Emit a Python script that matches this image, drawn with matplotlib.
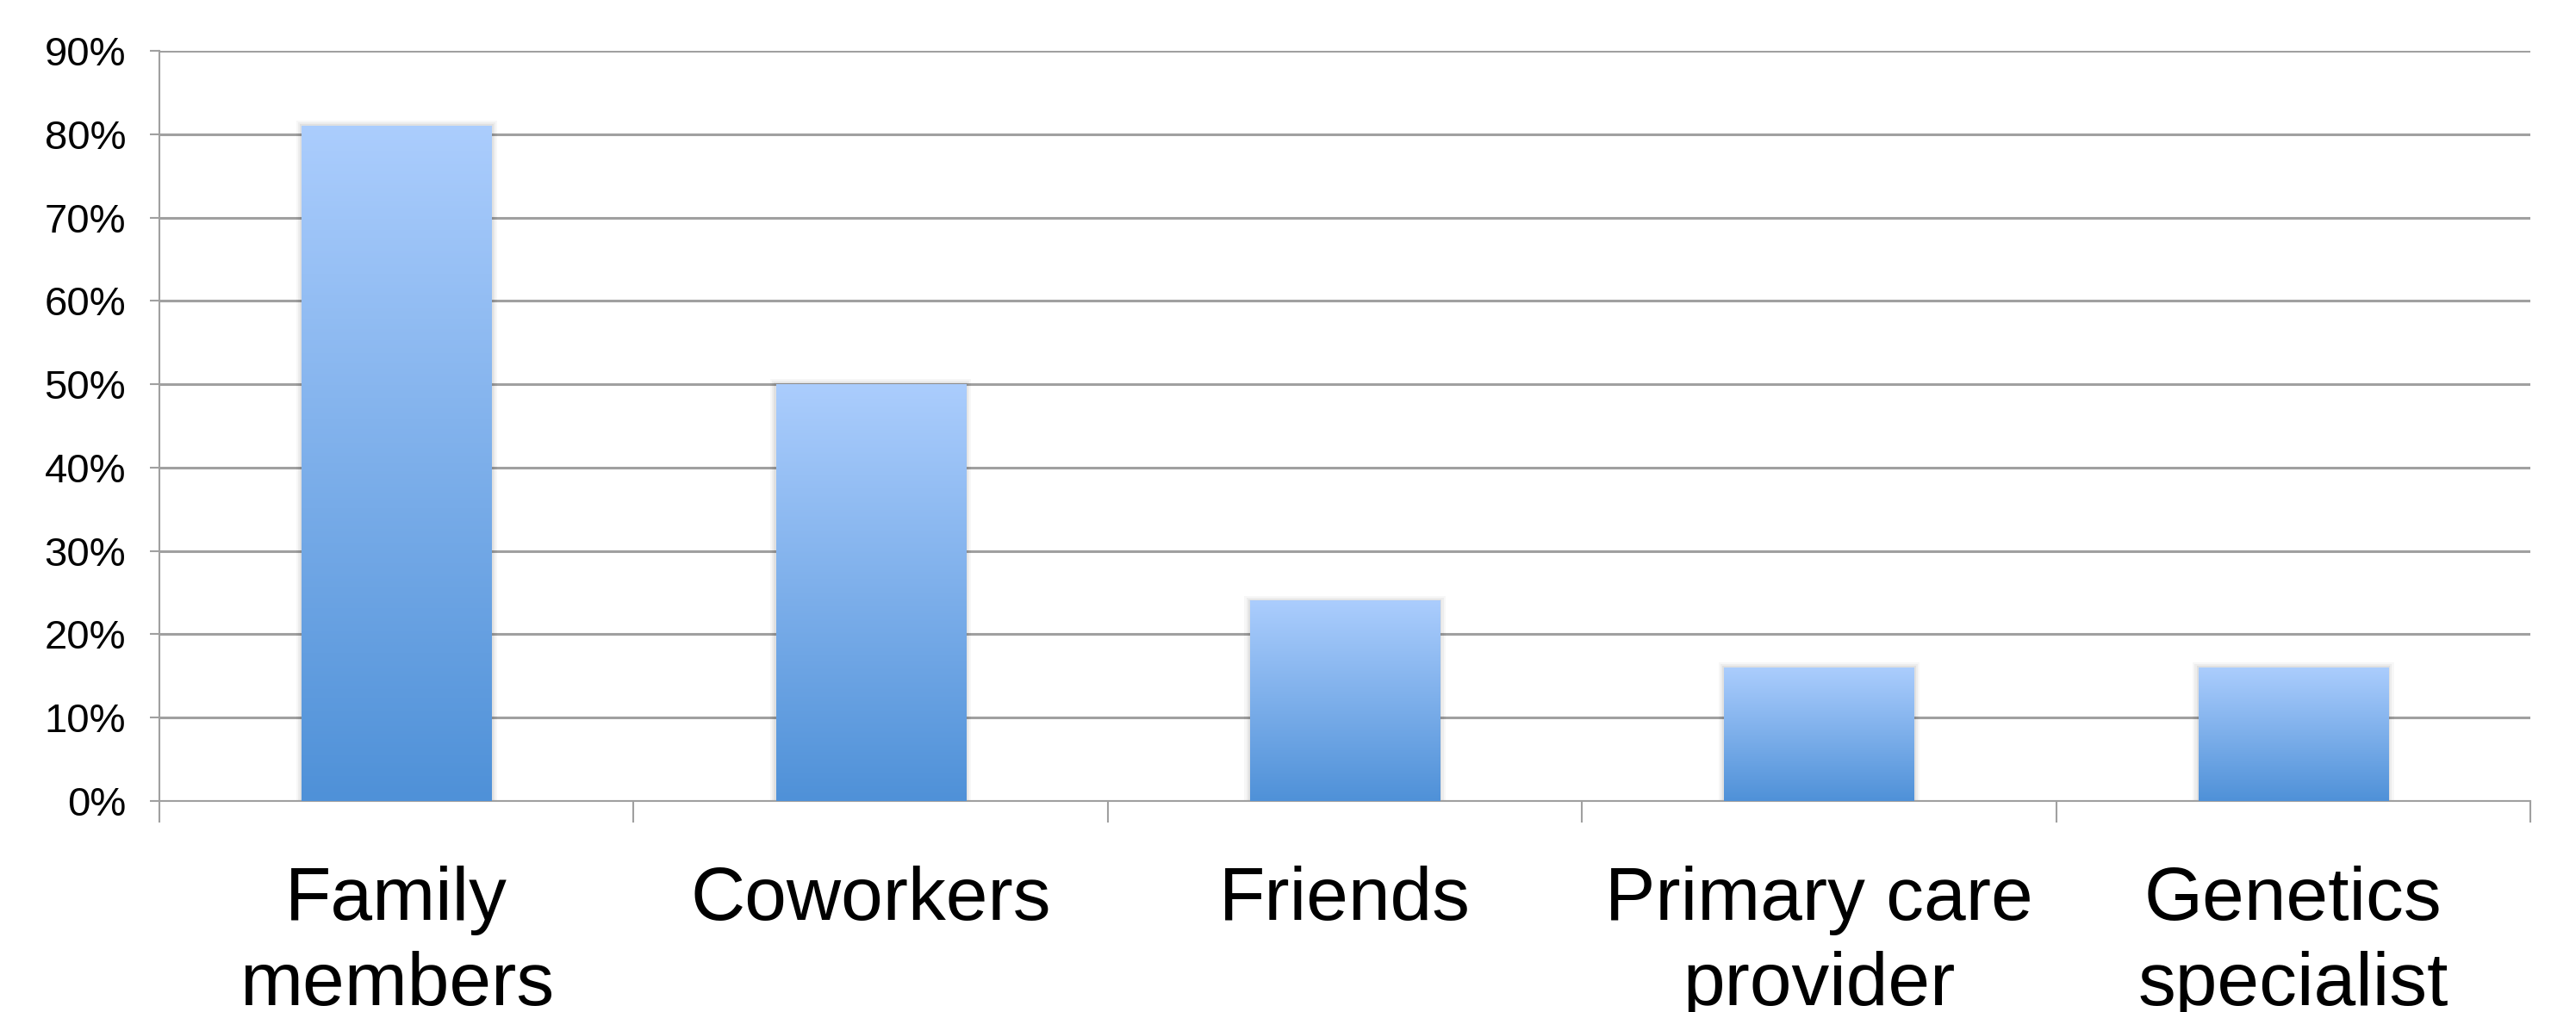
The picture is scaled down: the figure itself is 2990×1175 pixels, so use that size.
import numpy as np
import matplotlib
matplotlib.use("Agg")
import matplotlib.pyplot as plt
from matplotlib.colors import LinearSegmentedColormap
from matplotlib.patches import Rectangle

categories = ["Family\nmembers", "Coworkers", "Friends", "Primary care\nprovider", "Genetics\nspecialist"]
values = [0.81, 0.50, 0.24, 0.16, 0.16]
yticks = [0.0, 0.1, 0.2, 0.3, 0.4, 0.5, 0.6, 0.7, 0.8, 0.9]
ytick_labels = ["0%", "10%", "20%", "30%", "40%", "50%", "60%", "70%", "80%", "90%"]

plt.rcParams['font.family'] = ['Liberation Sans', 'DejaVu Sans']

fig = plt.figure(figsize=(29.9, 11.75), dpi=100)
ax = fig.add_axes([0.0619, 0.2085, 0.9823 - 0.0619, 0.9498 - 0.2085])

n = len(categories)
ax.set_xlim(0, n)
ax.set_ylim(0, 0.9)

cmap = LinearSegmentedColormap.from_list("g", ["#4f91d8", "#abcdfd"])
grad = np.linspace(0, 1, 256).reshape(-1, 1)
width = 0.4
for i, v in enumerate(values):
    x0 = i + 0.5 - width / 2
    # soft shadow
    for k, a in enumerate([0.05, 0.04, 0.03]):
        off = 0.004 * (k + 1)
        sh = Rectangle((x0 - off, 0), width + 2 * off, v + 0.002 * (k + 1),
                       facecolor="#000000", alpha=a, edgecolor="none", zorder=2)
        ax.add_patch(sh)
    ax.imshow(grad, cmap=cmap, origin="lower", aspect="auto",
              extent=(x0, x0 + width, 0, v), zorder=3, interpolation="bilinear")

ax.set_xlim(0, n)
ax.set_ylim(0, 0.9)

ax.set_yticks(yticks)
ax.set_yticklabels(ytick_labels)
ax.yaxis.grid(True, color="#a0a0a0", linewidth=2.2, zorder=1)
ax.set_axisbelow(True)

ax.set_xticks(np.arange(0, n + 1))
ax.set_xticklabels([])
ax.set_xticks(np.arange(n) + 0.5, minor=True)
ax.set_xticklabels(categories, minor=True, fontsize=63, linespacing=1.29)
ax.tick_params(axis="x", which="minor", length=0, pad=54)
ax.tick_params(axis="x", which="major", length=18, width=1.5, color="#a0a0a0")
ax.tick_params(axis="y", length=8, width=1.5, color="#a0a0a0", labelsize=34, pad=20)

for s in ["top", "right"]:
    ax.spines[s].set_visible(False)
for s in ["left", "bottom"]:
    ax.spines[s].set_color("#a0a0a0")
    ax.spines[s].set_linewidth(1.5)

fig.savefig("out.png", dpi=100)
